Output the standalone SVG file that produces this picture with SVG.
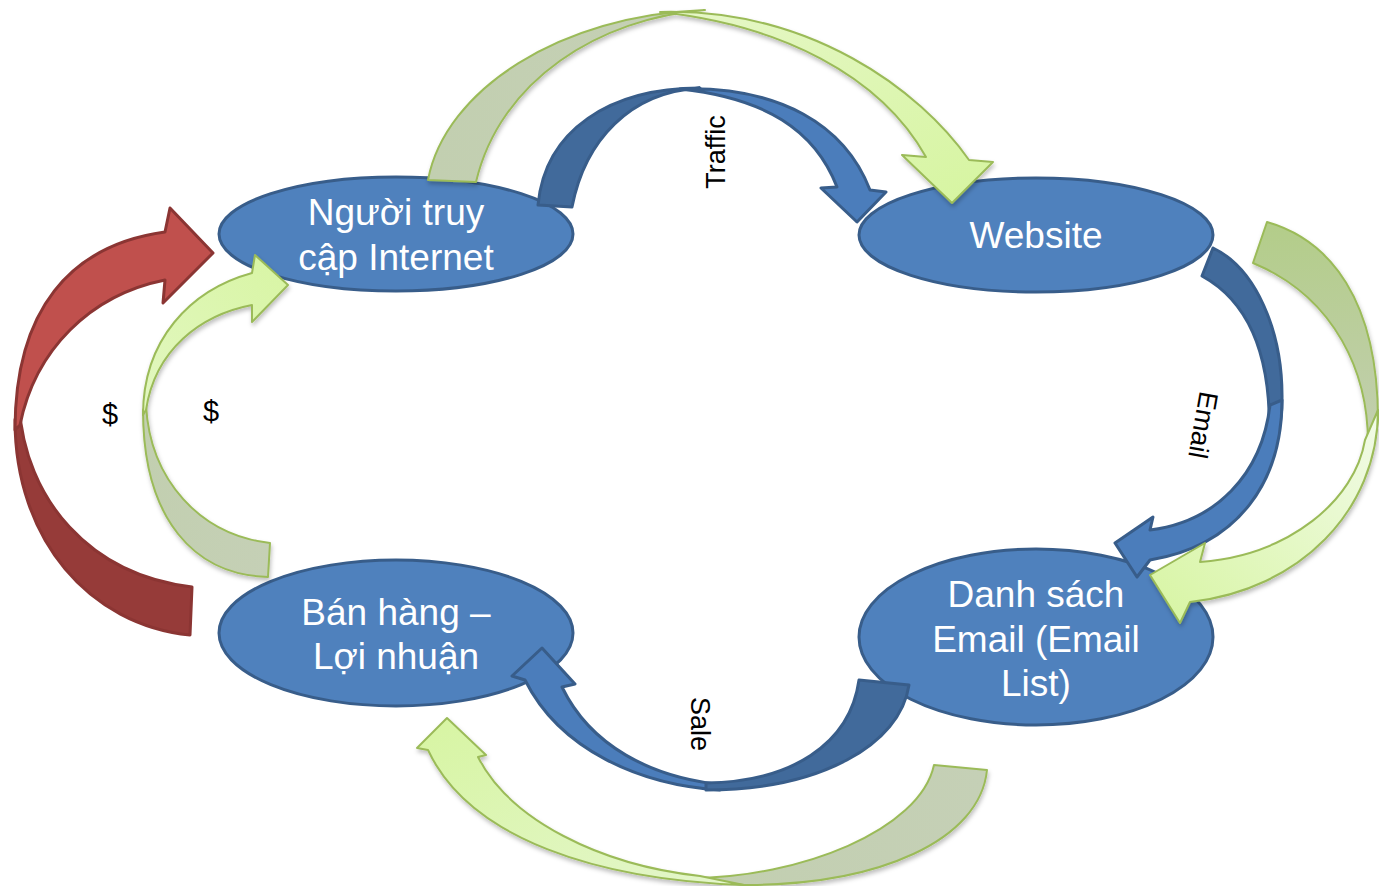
<svg xmlns="http://www.w3.org/2000/svg" width="1379" height="886" viewBox="0 0 1379 886">
<style>
.node{fill:#4f81bd;stroke:#385d8a;stroke-width:3}
.nt{font-family:"Liberation Sans",Arial,sans-serif;font-size:37px;fill:#ffffff;text-anchor:middle}
.lbl{font-family:"Liberation Sans",Arial,sans-serif;font-size:27px;fill:#000000;text-anchor:middle}
.dol{font-family:"Liberation Sans",Arial,sans-serif;font-size:29px;fill:#000000;text-anchor:middle}
.bb{fill:#416a9b;stroke:#385d8a;stroke-width:3;stroke-linejoin:round}
.bf{fill:#4b7dbb;stroke:#385d8a;stroke-width:3;stroke-linejoin:round}
.rb{fill:#963b39;stroke:#8b3533;stroke-width:3;stroke-linejoin:round}
.rf{fill:#c0504d;stroke:#8b3533;stroke-width:3;stroke-linejoin:round}
.gb{stroke:#9bbb59;stroke-width:2;stroke-linejoin:round}
.gf{stroke:#9bbb59;stroke-width:2;stroke-linejoin:round}
</style>
<defs>
<filter id="sh" x="-10%" y="-10%" width="130%" height="130%">
<feDropShadow dx="1" dy="3" stdDeviation="2" flood-color="#000" flood-opacity="0.25"/>
</filter>
<linearGradient id="gBackR" x1="0" y1="0" x2="0" y2="1"><stop offset="0" stop-color="#b3cd89"/><stop offset="1" stop-color="#c4cfb4"/></linearGradient>
<linearGradient id="gBackN" x1="0" y1="0" x2="1" y2="0"><stop offset="0" stop-color="#c2cfb0"/><stop offset="1" stop-color="#c5d0b6"/></linearGradient>
<linearGradient id="gFrontT" x1="0" y1="0" x2="1" y2="1"><stop offset="0" stop-color="#e6f7c8"/><stop offset="1" stop-color="#d6f5a0"/></linearGradient>
<linearGradient id="gFrontR" x1="1" y1="0" x2="0" y2="1"><stop offset="0" stop-color="#f2fbe8"/><stop offset="1" stop-color="#d7f5a2"/></linearGradient>
<linearGradient id="gFrontB" x1="1" y1="1" x2="0" y2="0"><stop offset="0" stop-color="#e4f6cc"/><stop offset="1" stop-color="#d7f5a2"/></linearGradient>
<linearGradient id="gFrontL" x1="0" y1="1" x2="1" y2="0"><stop offset="0" stop-color="#e2f7c0"/><stop offset="1" stop-color="#d8f5a4"/></linearGradient>
</defs>

<g id="node-nguoi-truy-cap">
<ellipse class="node" cx="396" cy="234" rx="177" ry="57"/>
<text class="nt" x="396" y="225">Người truy</text>
<text class="nt" x="396" y="270">cập Internet</text>
</g>
<g id="node-website">
<ellipse class="node" cx="1036" cy="235" rx="177" ry="57"/>
<text class="nt" x="1036" y="248">Website</text>
</g>
<g id="node-danh-sach-email">
<ellipse class="node" cx="1036" cy="637" rx="177" ry="88"/>
<text class="nt" x="1036" y="607">Danh sách</text>
<text class="nt" x="1036" y="652">Email (Email</text>
<text class="nt" x="1036" y="696">List)</text>
</g>
<g id="node-ban-hang">
<ellipse class="node" cx="396" cy="633" rx="177" ry="73"/>
<text class="nt" x="396" y="625">Bán hàng –</text>
<text class="nt" x="396" y="669">Lợi nhuận</text>
</g>

<g id="connectors">
<!-- top green: Người truy cập -> Website -->
<g filter="url(#sh)">
<path class="gb" fill="url(#gBackN)" d="M428 180 C445 90 560 15 705 10 C600 18 500 80 476 182 Z"/>
<path class="gf" fill="url(#gFrontT)" d="M660 12 C810 8 920 90 969 160 L993 162 L952 203 L902 155 L926 157 C880 75 780 25 660 12 Z"/>
</g>
<!-- Traffic blue -->
<g>
<path class="bb" d="M538 205 C545 130 610 88 700 88 C630 92 585 140 572 207 Z"/>
<path class="bf" d="M680 89 C780 86 845 125 870 190 L886 192 L857 222 L821 188 L837 187 C815 130 765 98 680 89 Z"/>
</g>
<!-- Email blue -->
<g>
<path class="bb" d="M1213 248 C1255 268 1283 330 1282 400 C1282 425 1276 445 1268 460 C1275 370 1255 305 1202 276 Z"/>
<path class="bf" d="M1282 400 C1282 480 1240 545 1150 560 L1137 577 L1115 543 L1153 517 L1150 530 C1215 522 1262 475 1270 405 Z"/>
</g>
<!-- right green: Website -> Danh sach -->
<g filter="url(#sh)">
<path class="gb" fill="url(#gBackR)" d="M1267 222 C1330 240 1378 300 1378 420 C1376 440 1372 452 1367 465 C1375 370 1330 295 1253 263 Z"/>
<path class="gf" fill="url(#gFrontR)" d="M1378 410 C1378 510 1300 590 1190 602 L1180 623 L1150 575 L1205 543 L1200 562 C1290 555 1355 500 1365 440 Z"/>
</g>
<!-- Sale blue -->
<g>
<path class="bf" d="M720 790 C640 785 560 750 525 680 L512 676 L542 648 L575 684 L562 687 C590 745 650 778 725 785 Z"/>
<path class="bb" d="M909 685 C900 745 820 790 706 790 L706 783 C790 782 850 745 859 680 Z"/>
</g>
<!-- bottom green: Danh sach -> Ban hang -->
<g filter="url(#sh)">
<path class="gb" fill="url(#gBackN)" d="M987 770 C980 840 880 885 744 885 L690 878 C800 878 920 830 934 765 Z"/>
<path class="gf" fill="url(#gFrontB)" d="M744 885 C600 880 470 840 428 750 L417 748 L447 718 L486 755 L478 757 C510 820 600 865 700 876 Z"/>
</g>
<!-- red $ -->
<g>
<path class="rb" d="M190 635 C90 625 15 540 15 420 L19 405 C25 500 90 575 192 587 Z"/>
<path class="rf" d="M15 430 C15 310 70 245 165 232 L170 208 L213 253 L163 303 L165 280 C90 295 35 350 20 425 Z"/>
</g>
<!-- small green $ -->
<g filter="url(#sh)">
<path class="gb" fill="url(#gBackN)" d="M268 577 C195 575 143 520 143 410 L146 405 C150 480 200 535 270 543 Z"/>
<path class="gf" fill="url(#gFrontL)" d="M143 415 C143 340 190 290 252 273 L255 255 L288 285 L252 322 L252 305 C200 315 155 350 146 410 Z"/>
</g>
<text class="lbl" transform="translate(716 152) rotate(-90)" y="9">Traffic</text>
<text class="lbl" transform="translate(1203 425) rotate(100)" y="9">Email</text>
<text class="lbl" transform="translate(700 724) rotate(90)" y="9">Sale</text>
<text class="dol" x="110" y="424">$</text>
<text class="dol" x="211" y="421">$</text>
</g>
</svg>
